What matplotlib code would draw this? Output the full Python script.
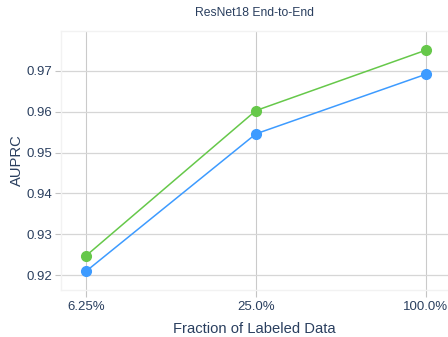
import matplotlib
matplotlib.use("Agg")
import matplotlib.pyplot as plt

fractions = ["6.25%", "25.0%", "100.0%"]
auprc_green = [0.9247, 0.9603, 0.9751]
auprc_blue = [0.9209, 0.9546, 0.9692]
y_ticks = [0.92, 0.93, 0.94, 0.95, 0.96, 0.97]

text_color = "#2a3f5f"
plt.rcParams["font.family"] = ["Liberation Sans", "DejaVu Sans"]

fig = plt.figure(figsize=(4.48, 3.37), dpi=100)
ax = fig.add_axes([0.136, 0.139, 0.864, 0.769])

x = range(len(fractions))
ax.plot(x, auprc_green, color="#66c84a", lw=1.1, marker="o", ms=7, zorder=3)
ax.plot(x, auprc_blue, color="#3d9bff", lw=1.1, marker="o", ms=7, zorder=3)

ax.set_xlim(-0.147, 2.13)
ax.set_ylim(0.9163, 0.9798)
ax.set_xticks(list(x))
ax.set_xticklabels(fractions)
ax.set_yticks(y_ticks)
ax.set_yticklabels([f"{v:.2f}" for v in y_ticks])

ax.grid(axis="y", color="#d6d6d6", lw=0.9)
ax.grid(axis="x", color="#cacaca", lw=0.8)
ax.set_axisbelow(True)
for side in ["top", "left", "right", "bottom"]:
    ax.spines[side].set_color("#f2f2f2")
    ax.spines[side].set_linewidth(1)
ax.spines["right"].set_visible(False)

ax.tick_params(axis="both", colors="#c4c4c4", labelcolor=text_color,
               labelsize=9.5, length=4, width=0.8, pad=2)
ax.tick_params(axis="x", length=5, pad=3)

ax.set_xlabel("Fraction of Labeled Data", color=text_color, fontsize=10.6, labelpad=6)
ax.set_ylabel("AUPRC", color=text_color, fontsize=10.6, labelpad=2)
ax.set_title("ResNet18 End-to-End", color=text_color, fontsize=8.7, pad=11)

fig.savefig("out.png", dpi=100)
